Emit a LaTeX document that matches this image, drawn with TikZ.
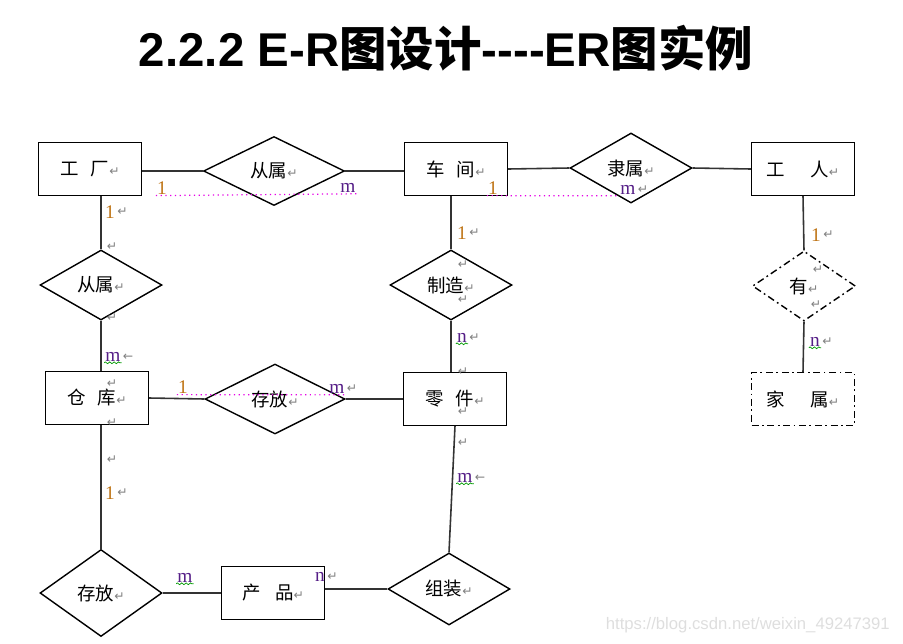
\documentclass[tikz,border=0pt]{standalone}
\usepackage{fontspec}
\usepackage{tikz}
\usetikzlibrary{shapes.geometric,positioning,decorations.pathmorphing}
\setmainfont{Liberation Serif}
\newfontfamily\cjk{Noto Sans CJK SC}
\newfontfamily\arial{Liberation Sans}
\newfontfamily\sym{DejaVu Sans}
\definecolor{retgray}{RGB}{128,128,128}
\definecolor{onecol}{RGB}{190,115,20}
\definecolor{manycol}{RGB}{85,30,135}
\definecolor{dotpink}{RGB}{230,0,230}
\newcommand\rt{{\sym\fontsize{7}{7}\selectfont\color{retgray}↵}}
\newcommand\lft{{\sym\fontsize{7}{7}\selectfont\color{retgray}←}}
\newcommand\nodefont{\cjk\fontsize{10.5}{12}\selectfont}

\begin{document}
\begin{tikzpicture}[x=0.02cm,y=-0.02cm,
  ent/.style={draw,line width=0.8pt,minimum width=2.06cm,minimum height=1.05cm,
              inner sep=1pt,font=\nodefont},
  weakent/.style={ent,dash pattern=on 4pt off 2pt on 1pt off 2pt},
  rel/.style={diamond,draw,line width=0.8pt,minimum width=2.44cm,minimum height=1.4cm,
              inner sep=0pt,font=\nodefont},
  weakrel/.style={rel,dash pattern=on 4pt off 2pt on 1pt off 2pt},
  lnk/.style={black!80,line width=0.9pt},
  card/.style={font=\fontsize{11}{11}\selectfont,inner sep=0.5pt},
  one/.style={card,text=onecol},
  many/.style={card,text=manycol},
  rtn/.style={inner sep=0pt},
  dotln/.style={dotpink,dotted,line width=0.7pt},
  spell/.style={green!60!black,line width=0.4pt,
                decorate,decoration={zigzag,amplitude=0.5pt,segment length=2.5pt}}
]
\useasboundingbox (0,0) rectangle (903,643);

\node[font=\arial\bfseries\fontsize{27}{30}\selectfont] (title) at (446,48)
  {2.2.2 E-R{\cjk\bfseries 图设计}{-}{-}{-}{-}ER{\cjk\bfseries 图实例}};

% entities
\node[ent]     (gc) at (90,169)  {工\hspace{.65em}厂\rt};
\node[ent]     (cj) at (456,169) {车\hspace{.65em}间\rt};
\node[ent]     (gr) at (803,169) {工\hspace{1.35em}人\rt};
\node[ent]     (ck) at (97,398)  {仓\hspace{.65em}库\rt};
\node[ent]     (lj) at (455,399) {零\hspace{.65em}件\rt};
\node[weakent] (js) at (803,399) {家\hspace{1.35em}属\rt};
\node[ent]     (cp) at (273,593) {产\hspace{.8em}品\rt};

% relationships
\node[rel,minimum width=2.82cm,minimum height=1.38cm] (cs1) at (274,171) {从属\rt};
\node[rel]                       (ls)  at (631,168) {隶属\rt};
\node[rel]                       (cs2) at (101,285) {从属\rt};
\node[rel]                       (zz)  at (451,285) {制造\rt};
\node[weakrel,minimum width=2.06cm] (you) at (804,286) {有\rt};
\node[rel,minimum width=2.8cm]   (cf1) at (275,399) {存放\rt};
\node[rel,minimum height=1.74cm] (cf2) at (101,593) {存放\rt};
\node[rel,minimum height=1.44cm] (zh)  at (449,589) {组装\rt};

% connectors
\draw[lnk] (cs1.west) -- (gc.east |- cs1.west);
\draw[lnk] (cs1.east) -- (cj.west |- cs1.east);
\draw[lnk] (cj.east) -- (ls.west);
\draw[lnk] (ls.east) -- (gr.west);
\draw[lnk] (gc.south -| cs2.north) -- (cs2.north);
\draw[lnk] (cs2.south) -- (ck.north -| cs2.south);
\draw[lnk] (ck.south -| cf2.north) -- (cf2.north);
\draw[lnk] (cf2.east) -- (cp.west |- cf2.east);
\draw[lnk] (cp.east |- zh.west) -- (zh.west);
\draw[lnk] (zh.north) -- (lj.south);
\draw[lnk] (cj.south -| zz.north) -- (zz.north);
\draw[lnk] (zz.south) -- (lj.north -| zz.south);
\draw[lnk] (ck.east) -- (cf1.west);
\draw[lnk] (cf1.east) -- (lj.west);
\draw[lnk] (gr.south) -- (you.north);
\draw[lnk] (you.south) -- (js.north);

% cardinalities
\node[one]  (c1)  at (162,188) {1};
\node[many] (c2)  at (348,188) {m};
\node[one]  (c3)  at (493,188) {1};
\node[many] (c4)  at (628,190) {m};
\node[one]  (c5)  at (110,212) {1};
\node[one]  (c6)  at (462,233) {1};
\node[many] (c7)  at (113,357) {m};
\node[one]  (c8)  at (183,387) {1};
\node[many] (c9)  at (337,389) {m};
\node[many] (c10) at (462,338) {n};
\node[one]  (c11) at (816,235) {1};
\node[many] (c12) at (815,342) {n};
\node[one]  (c13) at (110,493) {1};
\node[many] (c14) at (185,578) {m};
\node[many] (c15) at (320,577) {n};
\node[many] (c16) at (465,478) {m};

\foreach \c in {c4,c5,c6,c9,c10,c11,c12,c13,c15}
  \node[rtn,right=0.5pt of \c] (\c r) {\rt};
\foreach \c in {c7,c16}
  \node[rtn,right=0.5pt of \c] (\c r) {\lft};

\draw[dotln] (c1.south west) -- (c2.south east);
\draw[dotln] (c3.south west) -- (c4.south west);
\draw[dotln] (c8.south west) -- (c9.south east);

\foreach \c in {c7,c10,c12,c14,c16}
  \draw[spell] (\c.south west) -- (\c.south east);

% stray paragraph marks
\foreach \p [count=\i] in {(112,247),(112,318),(112,384),(112,423),(112,460),
    (463,265),(463,300),(463,372),(463,412),(463,443),(818,270),(816,305)}
  \node[rtn] (p\i) at \p {\rt};

\node[font=\arial\fontsize{9.5}{10}\selectfont,text=black!13,anchor=east] (wm)
  at (896,625) {https://blog.csdn.net/weixin\_49247391};
\end{tikzpicture}
\end{document}
